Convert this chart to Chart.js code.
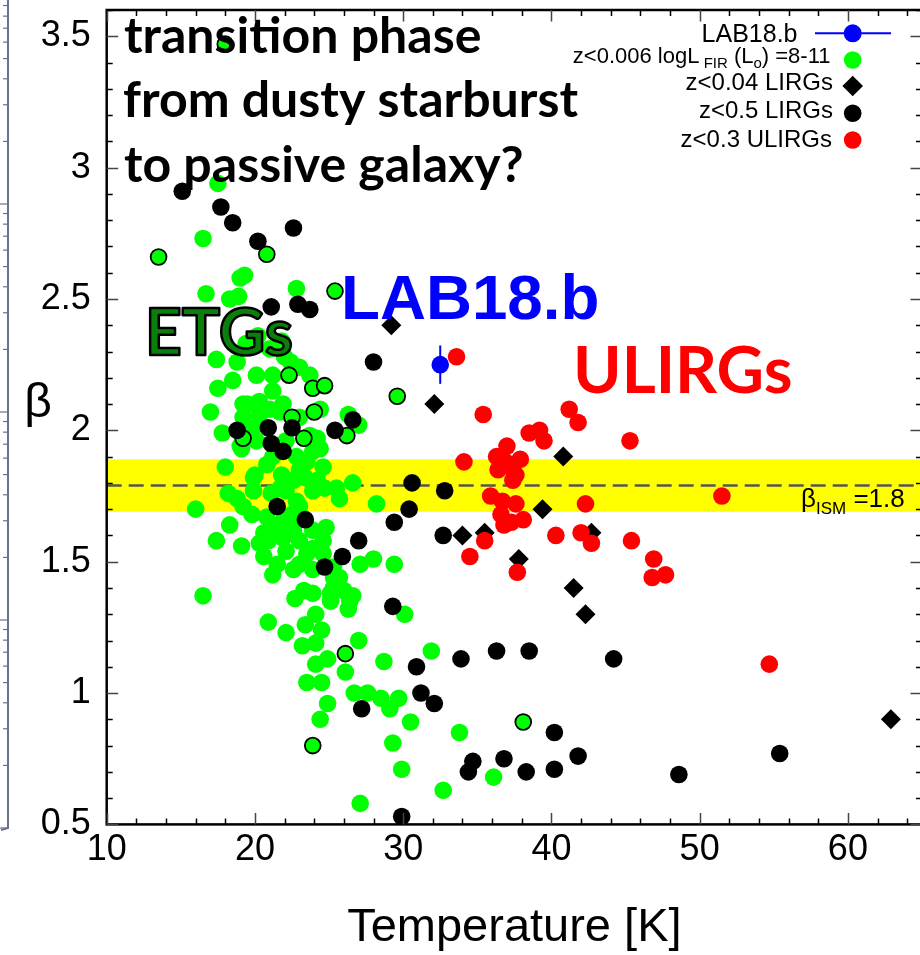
<!DOCTYPE html>
<html>
<head>
<meta charset="utf-8">
<script src="https://cdn.jsdelivr.net/npm/chart.js@4.4.1/dist/chart.umd.min.js"></script>
<style>
  html, body { margin: 0; padding: 0; background: #fff; overflow: hidden; }
  #wrap { position: absolute; left: 0; top: 0; width: 932px; height: 955px; }
</style>
</head>
<body>
<div id="wrap"><canvas id="betaT" width="932" height="955"></canvas></div>
<script>
// axis ranges and ticks
const xMin = 10, xMax = 65, xStep = 10, xMinorStep = 2;
const yMin = 0.5, yMax = 3.6, yStep = 0.5, yMinorStep = 0.1;
const ismBeta = 1.79;          // dashed line, labelled 1.8
const ismBand = [1.69, 1.89];  // yellow band

// LAB18.b (T, beta, beta error)
const lab18 = [[32.5, 2.25]];
const lab18Err = [0.073];

// z<0.006, logL_FIR 8-11 (green)
const localGals = [
  [17.5, 2.94], [16.5, 2.73], [19.3, 2.59], [19.0, 2.58], [16.7, 2.52], [22.8, 2.54], [18.3, 2.50], [18.9, 2.51],
  [17.4, 2.27], [18.8, 2.26], [23.0, 2.24], [23.7, 2.21], [22.0, 2.28], [22.4, 2.26],
  [19.4, 2.33], [20.2, 2.36], [21.0, 2.31], [21.8, 2.34], [20.1, 2.21], [21.2, 2.21],
  [17.5, 2.16], [18.5, 2.19], [21.2, 2.15], [17.0, 2.07], [19.2, 2.10], [26.3, 2.06], [27.0, 2.02],
  [19.5, 2.10], [20.3, 2.11], [21.0, 2.08], [21.9, 2.10], [19.2, 2.05], [20.3, 2.06], [21.7, 2.07], [23.0, 2.05], [24.4, 2.08], [19.9, 2.01],
  [17.8, 1.99], [19.0, 1.94], [19.1, 1.93], [20.1, 1.96], [22.1, 1.96], [23.7, 1.98], [24.2, 1.97], [24.4, 1.93], [23.9, 1.92], [21.2, 1.90], [22.8, 1.90],
  [18.0, 1.86], [20.8, 1.87], [24.6, 1.86], [19.9, 1.82], [20.0, 1.83], [21.8, 1.83], [23.0, 1.85], [23.5, 1.88], [23.4, 1.82], [24.2, 1.81], [22.6, 1.81],
  [26.6, 1.80], [18.2, 1.76], [19.9, 1.77], [18.8, 1.74], [21.1, 1.76], [22.1, 1.77], [21.7, 1.78], [22.8, 1.73], [23.9, 1.77], [24.7, 1.78], [25.5, 1.78], [25.7, 1.74], [28.2, 1.72],
  [16.0, 1.70], [19.2, 1.71], [19.8, 1.68], [22.5, 1.68], [23.0, 1.71], [22.0, 1.67], [20.8, 1.67],
  [18.3, 1.64], [21.6, 1.64], [22.6, 1.62], [21.2, 1.62], [20.6, 1.61], [17.4, 1.58], [19.1, 1.56], [21.9, 1.59], [20.9, 1.58], [23.0, 1.58], [23.9, 1.62], [24.8, 1.63], [24.6, 1.58], [20.3, 1.57],
  [20.6, 1.52], [21.5, 1.49], [21.2, 1.45], [22.1, 1.54], [23.9, 1.55], [24.6, 1.53], [23.0, 1.49], [23.5, 1.53], [23.9, 1.47], [22.6, 1.47], [25.3, 1.48], [25.3, 1.44], [25.7, 1.44],
  [25.3, 1.40], [26.0, 1.39], [26.6, 1.37], [25.1, 1.38], [23.3, 1.39], [26.4, 1.35], [25.1, 1.35], [23.9, 1.38], [22.7, 1.36], [26.3, 1.32], [24.1, 1.30], [16.5, 1.37],
  [27.1, 1.49], [28.0, 1.51], [29.4, 1.49], [30.1, 1.30],
  [20.9, 1.27], [22.1, 1.23], [23.4, 1.26], [24.5, 1.24], [23.2, 1.18], [24.1, 1.19], [27.0, 1.20], [24.9, 1.13], [24.1, 1.11], [26.1, 1.08], [23.5, 1.04], [24.5, 1.04], [28.7, 1.12], [31.9, 1.16],
  [26.7, 1.00], [27.6, 1.00], [28.5, 0.98], [29.7, 0.98], [29.1, 0.94], [24.9, 0.96], [24.4, 0.90], [30.5, 0.89], [29.3, 0.81], [29.9, 0.71], [33.8, 0.85], [32.7, 0.63], [27.1, 0.58], [36.1, 0.68]
];
// green points drawn with a black ring
const localGalsRing = [
  [18.0, 3.47], [13.5, 2.66], [20.8, 2.67], [25.4, 2.53], [22.3, 2.21], [23.9, 2.16], [24.7, 2.17], [29.6, 2.13],
  [24.0, 2.07], [22.5, 2.05], [19.2, 1.97], [23.3, 1.97], [26.2, 1.98], [26.1, 1.15], [23.9, 0.80], [38.1, 0.89]
];

// z<0.04 LIRGs (diamonds)
const lirgsNear = [
  [29.2, 2.40], [32.1, 2.10], [40.8, 1.90], [39.4, 1.70], [34.0, 1.60], [35.5, 1.61], [42.7, 1.61],
  [37.8, 1.51], [41.5, 1.40], [42.3, 1.30], [62.9, 0.90]
];

// z<0.5 LIRGs (black)
const lirgsFar = [
  [15.1, 2.91], [17.7, 2.85], [18.5, 2.79], [20.2, 2.72], [22.6, 2.77], [21.1, 2.47], [22.9, 2.48], [23.7, 2.46],
  [28.0, 2.26], [18.8, 2.00], [20.9, 2.01], [22.5, 2.01], [25.4, 2.00], [26.6, 2.04], [21.1, 1.95], [21.9, 1.92],
  [21.5, 1.71], [23.4, 1.66], [30.6, 1.80], [32.8, 1.77], [30.4, 1.70], [29.4, 1.65], [32.7, 1.60], [27.0, 1.58],
  [25.9, 1.52], [24.7, 1.48], [29.3, 1.33], [30.9, 1.10], [33.9, 1.13], [31.2, 1.00], [32.1, 0.96], [27.2, 0.94],
  [34.7, 0.74], [34.4, 0.70], [29.9, 0.53], [36.3, 1.16], [38.5, 1.16], [44.2, 1.13], [40.2, 0.85], [36.8, 0.75],
  [38.3, 0.70], [40.2, 0.71], [41.8, 0.76], [48.6, 0.69], [55.4, 0.77]
];

// z<0.3 ULIRGs (red)
const ulirgs = [
  [33.6, 2.28], [35.4, 2.06], [41.2, 2.08], [41.8, 2.03], [38.5, 1.99], [39.2, 2.00], [39.5, 1.96], [45.3, 1.96],
  [37.0, 1.94], [34.1, 1.88], [36.3, 1.90], [36.9, 1.88], [37.9, 1.89], [36.4, 1.85], [37.4, 1.85], [37.6, 1.83],
  [37.4, 1.81], [35.9, 1.75], [36.7, 1.73], [37.6, 1.72], [36.6, 1.68], [37.3, 1.65], [38.1, 1.66], [36.8, 1.64],
  [42.3, 1.72], [35.5, 1.58], [40.3, 1.60], [42.0, 1.61], [42.7, 1.57], [45.4, 1.58], [34.5, 1.52], [46.9, 1.51],
  [37.7, 1.46], [46.8, 1.44], [47.7, 1.45], [51.5, 1.75], [54.7, 1.11]
];

const seriesLabels = ['LAB18.b', 'z<0.006 logL_FIR (L_o) =8-11', 'z<0.04 LIRGs', 'z<0.5 LIRGs', 'z<0.3 ULIRGs'];
const notes = ['transition phase', 'from dusty starburst', 'to passive galaxy?'];

const GREEN = '#00ff00', RED = '#ff0000', BLUE = '#0000ff', BLACK = '#000000';
const SANS = '"Liberation Sans", Arial, sans-serif';

const pts = arr => arr.map(p => ({x: p[0], y: p[1]}));
const scatter = (label, arr, color, style, r, border, bw) => ({
  label, data: pts(arr),
  pointStyle: style, pointRadius: r,
  pointBackgroundColor: color, pointBorderColor: border || color, pointBorderWidth: bw || 0
});

// rich text: parts = [text, size, dy]
function richText(ctx, parts, x, base, align) {
  const w = parts.map(([t, s]) => { ctx.font = s + 'px ' + SANS; return ctx.measureText(t).width; });
  let cx = align === 'right' ? x - w.reduce((a, b) => a + b, 0) : x;
  ctx.textAlign = 'left';
  ctx.textBaseline = 'alphabetic';
  parts.forEach(([t, s, dy], i) => {
    ctx.font = s + 'px ' + SANS;
    ctx.fillText(t, cx, base + dy);
    cx += w[i];
  });
}

// pick a font size so the ink width of text matches inkW
function fitFont(ctx, text, weight, family, inkW) {
  ctx.font = weight + ' 100px ' + family;
  const m = ctx.measureText(text);
  const size = 100 * inkW / (m.actualBoundingBoxLeft + m.actualBoundingBoxRight);
  return weight + ' ' + size.toFixed(2) + 'px ' + family;
}
function inkText(ctx, text, left, base) {
  const m = ctx.measureText(text);
  ctx.fillText(text, left + m.actualBoundingBoxLeft, base);
  return m;
}

const decor = {
  id: 'decor',
  beforeDatasetsDraw(chart) {
    const {ctx, chartArea: a, scales: {y}} = chart;
    ctx.save();
    const yt = y.getPixelForValue(ismBand[1]), yb = y.getPixelForValue(ismBand[0]);
    ctx.fillStyle = '#ffff00';
    ctx.fillRect(a.left, yt, a.right - a.left, yb - yt);
    const yl = y.getPixelForValue(ismBeta);
    ctx.setLineDash([15, 7]);
    ctx.strokeStyle = '#555555';
    ctx.lineWidth = 2.5;
    ctx.beginPath(); ctx.moveTo(a.left, yl); ctx.lineTo(a.right, yl); ctx.stroke();
    ctx.restore();
  },
  afterDatasetsDraw(chart) {
    const {ctx, scales: {x, y}} = chart;
    ctx.save();
    ctx.strokeStyle = BLUE;
    ctx.lineWidth = 2;
    lab18.forEach((p, i) => {
      const px = x.getPixelForValue(p[0]);
      ctx.beginPath();
      ctx.moveTo(px, y.getPixelForValue(p[1] + lab18Err[i]));
      ctx.lineTo(px, y.getPixelForValue(p[1] - lab18Err[i]));
      ctx.stroke();
    });
    ctx.restore();
  },
  afterDraw(chart) {
    const {ctx, chartArea: a, scales: {x, y}} = chart;
    ctx.save();

    // frame + inward ticks on all four sides
    ctx.strokeStyle = BLACK;
    ctx.lineWidth = 2.5;
    ctx.strokeRect(a.left, a.top, a.right - a.left, a.bottom - a.top);
    ctx.lineWidth = 1.5;
    const nx = Math.round((xMax - xMin) / xMinorStep);
    for (let k = 0; k <= nx; k++) {
      const v = xMin + k * xMinorStep;
      if (v >= xMax) break;
      const major = (v - xMin) % xStep === 0;
      const len = major ? 11.5 : 6;
      const px = Math.round(x.getPixelForValue(v)) + 0.5;
      ctx.strokeStyle = major ? '#444' : BLACK;
      ctx.beginPath();
      ctx.moveTo(px, a.bottom); ctx.lineTo(px, a.bottom - len);
      ctx.moveTo(px, a.top); ctx.lineTo(px, a.top + len);
      ctx.stroke();
    }
    const ny = Math.round((yMax - yMin) / yMinorStep);
    for (let k = 0; k <= ny; k++) {
      const v = yMin + k * yMinorStep;
      const major = k % 5 === 0;
      const len = major ? 11.5 : 6;
      const py = Math.round(y.getPixelForValue(v)) + 0.5;
      ctx.strokeStyle = major ? '#444' : BLACK;
      ctx.beginPath();
      ctx.moveTo(a.left, py); ctx.lineTo(a.left + len, py);
      ctx.moveTo(a.right, py); ctx.lineTo(a.right - len, py);
      ctx.stroke();
    }

    // cut-off neighbouring panel at the far left
    ctx.strokeStyle = '#6a7090';
    ctx.lineWidth = 2;
    ctx.beginPath(); ctx.moveTo(8, 0); ctx.lineTo(8, 828); ctx.lineTo(1, 830); ctx.stroke();
    ctx.lineWidth = 1.2;
    for (let d = 0; d < 5; d++) {
      for (let m = 1; m <= 9; m++) {
        const yy = 828 - 208 * d - 208 * Math.log10(m);
        if (yy < 0) continue;
        ctx.beginPath(); ctx.moveTo(8, yy); ctx.lineTo(m === 1 ? 0 : 3, yy); ctx.stroke();
      }
    }

    // y axis symbol
    ctx.fillStyle = BLACK;
    ctx.font = '48px ' + SANS;
    ctx.textAlign = 'center';
    ctx.textBaseline = 'alphabetic';
    ctx.fillText('β', 38, 416.5);

    // beta_ISM label
    richText(ctx, [['β', 26, 0], ['ISM', 17, 7], [' =1.8', 26, 0]], 801, 506.7, 'left');

    // big annotations
    ctx.textAlign = 'left';
    ctx.font = fitFont(ctx, notes[1], 'bold', 'Lato', 454);
    ctx.fillStyle = BLACK;
    [53.3, 116.7, 181.7].forEach((b, i) => inkText(ctx, notes[i], 124, b));

    ctx.font = fitFont(ctx, 'LAB18.b', 'bold', SANS, 252);
    ctx.fillStyle = BLUE;
    inkText(ctx, 'LAB18.b', 345, 319.3);

    ctx.font = fitFont(ctx, 'ULIRGs', 'bold', 'Lato', 213);
    ctx.fillStyle = RED;
    inkText(ctx, 'ULIRGs', 577, 393.3);

    ctx.font = fitFont(ctx, 'ETGs', 'bold', 'Lato', 141);
    const m = ctx.measureText('ETGs');
    ctx.fillStyle = '#0b7f0b';
    ctx.strokeStyle = BLACK;
    ctx.lineWidth = 2.5;
    ctx.lineJoin = 'round';
    ctx.fillText('ETGs', 150 + m.actualBoundingBoxLeft, 355);
    ctx.strokeText('ETGs', 150 + m.actualBoundingBoxLeft, 355);

    // legend: text right-aligned, symbol on the right
    ctx.fillStyle = BLACK;
    const sx = 852.7;
    richText(ctx, [[seriesLabels[0], 25, 0]], 797.5, 41.7, 'right');
    richText(ctx, [['z<0.006 logL', 22, 0], [' FIR', 15, 5], [' (L', 22, 0], ['o', 15, 5], [') =8-11', 22, 0]], 830.5, 63.3, 'right');
    richText(ctx, [[seriesLabels[2], 24, 0]], 833, 90, 'right');
    richText(ctx, [[seriesLabels[3], 24, 0]], 833, 118.3, 'right');
    richText(ctx, [[seriesLabels[4], 24, 0]], 832, 146.7, 'right');

    const dot = (cx, cy, r, c) => { ctx.fillStyle = c; ctx.beginPath(); ctx.arc(cx, cy, r, 0, Math.PI * 2); ctx.fill(); };
    ctx.strokeStyle = BLUE; ctx.lineWidth = 2;
    ctx.beginPath(); ctx.moveTo(815, 33.3); ctx.lineTo(891, 33.3); ctx.stroke();
    dot(sx, 33.3, 9, BLUE);
    dot(sx, 60, 8.8, GREEN);
    ctx.fillStyle = BLACK;
    ctx.beginPath(); ctx.moveTo(sx - 10.3, 86); ctx.lineTo(sx, 75.7); ctx.lineTo(sx + 10.3, 86); ctx.lineTo(sx, 96.3); ctx.closePath(); ctx.fill();
    dot(sx, 113.3, 8.8, BLACK);
    dot(sx, 140, 8.8, RED);

    ctx.restore();
  }
};

new Chart(document.getElementById('betaT'), {
  type: 'scatter',
  data: {
    datasets: [
      scatter(seriesLabels[0], lab18, BLUE, 'circle', 8.8),
      scatter(seriesLabels[4], ulirgs, RED, 'circle', 8.8),
      scatter(seriesLabels[2], lirgsNear, BLACK, 'rectRot', 10),
      scatter(seriesLabels[3], lirgsFar, BLACK, 'circle', 8.8),
      scatter('ring', localGalsRing, GREEN, 'circle', 7.9, BLACK, 1.8),
      scatter(seriesLabels[1], localGals, GREEN, 'circle', 8.8)
    ]
  },
  options: {
    responsive: false,
    animation: false,
    events: [],
    layout: { padding: { left: 0, top: 7.5, right: 9.6, bottom: 0 } },
    plugins: { legend: { display: false }, tooltip: { enabled: false } },
    scales: {
      x: {
        type: 'linear', min: xMin, max: xMax,
        ticks: { stepSize: xStep, includeBounds: false, padding: 4.5, color: BLACK, maxRotation: 0,
                 font: { family: SANS, size: 36 }, callback: v => String(v) },
        grid: { display: false, drawTicks: false },
        border: { display: false },
        title: { display: true, text: 'Temperature [K]', color: BLACK,
                 font: { family: SANS, size: 47, lineHeight: 1 }, padding: { top: 0, bottom: 3 } },
        afterFit(s) { s.height = 130.6; s.paddingLeft = 0; s.paddingRight = 0; }
      },
      y: {
        type: 'linear', min: yMin, max: yMax,
        ticks: { stepSize: yStep, includeBounds: false, padding: 16, color: BLACK,
                 font: { family: SANS, size: 36 }, callback: v => String(+v.toFixed(1)) },
        grid: { display: false, drawTicks: false },
        border: { display: false },
        afterFit(s) { s.width = 106.7; s.paddingTop = 0; s.paddingBottom = 0; }
      }
    }
  },
  plugins: [decor]
});
</script>
</body>
</html>
